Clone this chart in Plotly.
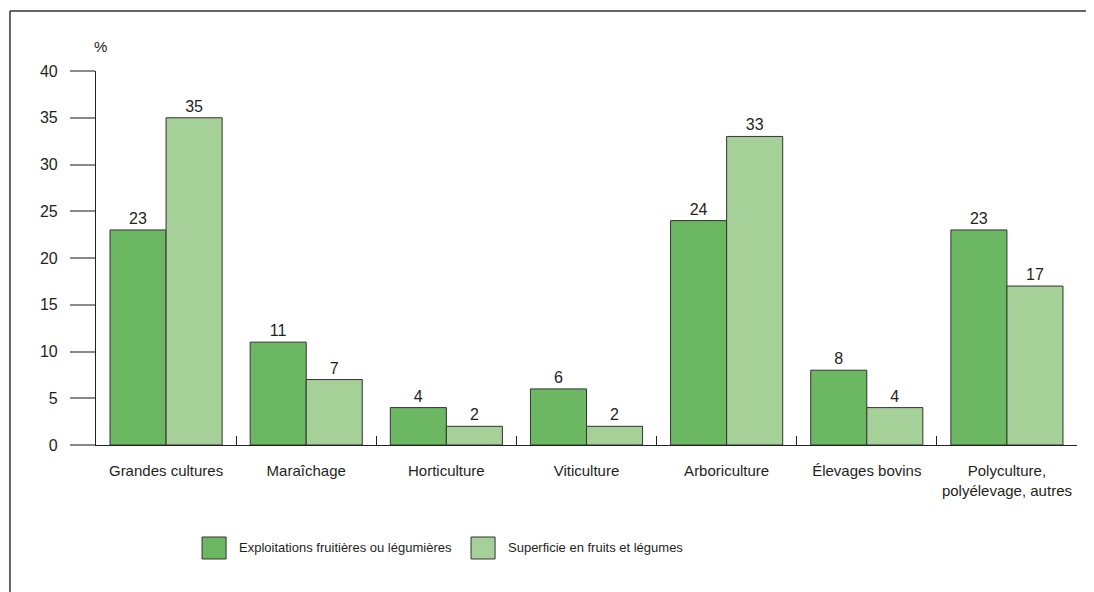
import plotly.graph_objects as go

# données
categories = ["Grandes cultures", "Maraîchage", "Horticulture", "Viticulture",
              "Arboriculture", "Élevages bovins", "Polyculture,<br>polyélevage, autres"]
exploitations = [23, 11, 4, 6, 24, 8, 23]
superficie = [35, 7, 2, 2, 33, 4, 17]
series_names = ["Exploitations fruitières ou légumières", "Superficie en fruits et légumes"]
y_ticks = [0, 5, 10, 15, 20, 25, 30, 35, 40]

FONT = "Liberation Sans, Arial, sans-serif"
TXT = "#231f20"
DARK = "#6cb761"
LIGHT = "#a5d098"

fig = go.Figure()
for name, vals, col in [(series_names[0], exploitations, DARK), (series_names[1], superficie, LIGHT)]:
    fig.add_trace(go.Bar(
        x=categories, y=vals, name=name,
        marker=dict(color=col, line=dict(color="#333333", width=1)),
        text=vals, textposition="outside", cliponaxis=False,
        textfont=dict(family=FONT, size=16, color=TXT),
        showlegend=False,
    ))

# la page ajoute une marge de 8 px autour de la figure
fig.update_layout(
    width=1086, height=584,
    margin=dict(l=88, r=17, t=63, b=147),
    paper_bgcolor="white", plot_bgcolor="white",
    barmode="group", bargap=0.2, bargroupgap=0,
    font=dict(family=FONT, size=15, color=TXT),
)

fig.update_yaxes(
    range=[0, 40], tickvals=y_ticks, showgrid=False, zeroline=False,
    showline=True, linecolor="#222222", linewidth=1.2,
    ticks="outside", ticklen=25, tickcolor="#8a8a8a", tickwidth=1.5,
    ticklabelstandoff=9, automargin=False,
    tickfont=dict(family=FONT, size=16, color=TXT),
)
fig.update_xaxes(
    showgrid=False, showline=True, linecolor="#222222", linewidth=1.2,
    ticks="inside", tickson="boundaries", ticklen=9, tickcolor="#222222", tickwidth=1.2,
    tickangle=0, automargin=False, ticklabelstandoff=12,
    tickfont=dict(family=FONT, size=15, color=TXT),
)

# "%" au-dessus de l'axe
fig.add_annotation(x=0.005, y=1.0, xref="paper", yref="paper", text="%",
                   showarrow=False, xanchor="center", yanchor="bottom", yshift=14,
                   font=dict(family=FONT, size=15, color=TXT))

# cadre extérieur (coupé à droite et en bas)
fig.add_shape(type="line", xref="paper", yref="paper", x0=-0.0877, x1=1.05, y0=1.1604, y1=1.1604,
              line=dict(color="#333333", width=1.5))
fig.add_shape(type="line", xref="paper", yref="paper", x0=-0.0877, x1=-0.0877, y0=1.1604, y1=-0.5,
              line=dict(color="#333333", width=1.5))

# légende dessinée à la main
legend = [(0.1081, 0.1437, DARK, series_names[0]), (0.3823, 0.4179, LIGHT, series_names[1])]
for bx, tx, col, label in legend:
    fig.add_shape(type="rect", xref="paper", yref="paper", x0=bx, x1=bx + 0.0245,
                  y0=-0.3048, y1=-0.246, fillcolor=col, line=dict(color="#333333", width=1))
    fig.add_annotation(x=tx, y=-0.2754, xref="paper", yref="paper", text=label,
                       showarrow=False, xanchor="left", yanchor="middle",
                       font=dict(family=FONT, size=13, color=TXT))

fig.write_html("out.html")
